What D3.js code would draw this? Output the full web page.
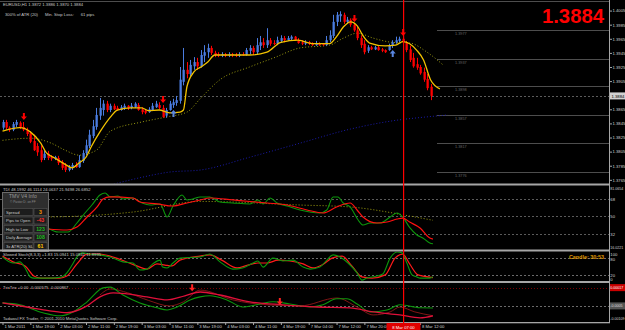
<!DOCTYPE html>
<html><head><meta charset="utf-8">
<script src="https://cdn.jsdelivr.net/npm/d3@7"></script>
<style>body{margin:0;background:#000;overflow:hidden}svg{display:block}text{font-family:"Liberation Sans",Arial,sans-serif}</style>
</head><body><svg id="c" width="625" height="330"></svg>
<script>
// ---------- DATA ----------
const opens=[1.3839,1.3847,1.3839,1.3836,1.3843,1.3846,1.3840,1.3836,1.3831,1.3820,1.3813,1.3807,1.3796,1.3802,1.3797,1.3795,1.3796,1.3790,1.3785,1.3779,1.3782,1.3786,1.3783,1.3792,1.3803,1.3813,1.3827,1.3840,1.3856,1.3864,1.3873,1.3864,1.3870,1.3867,1.3864,1.3867,1.3870,1.3867,1.3868,1.3871,1.3865,1.3863,1.3861,1.3864,1.3868,1.3871,1.3867,1.3856,1.3864,1.3871,1.3874,1.3877,1.3904,1.3921,1.3915,1.3926,1.3932,1.3926,1.3941,1.3946,1.3952,1.3945,1.3943,1.3941,1.3943,1.3941,1.3943,1.3942,1.3941,1.3943,1.3942,1.3948,1.3952,1.3946,1.3955,1.3960,1.3956,1.3963,1.3959,1.3958,1.3962,1.3966,1.3963,1.3965,1.3968,1.3963,1.3960,1.3958,1.3960,1.3958,1.3956,1.3959,1.3958,1.3956,1.3963,1.3969,1.3989,1.3997,1.3999,1.3989,1.3992,1.3985,1.3977,1.3966,1.3958,1.3948,1.3953,1.3950,1.3953,1.3950,1.3949,1.3949,1.3955,1.3960,1.3962,1.3965,1.3960,1.3950,1.3938,1.3929,1.3925,1.3918,1.3908,1.3897];
const highs=[1.3850,1.3850,1.3841,1.3847,1.3850,1.3848,1.3847,1.3839,1.3834,1.3829,1.3817,1.3814,1.3807,1.3806,1.3800,1.3799,1.3799,1.3793,1.3789,1.3786,1.3789,1.3790,1.3800,1.3807,1.3822,1.3836,1.3850,1.3867,1.3881,1.3878,1.3877,1.3873,1.3873,1.3870,1.3871,1.3873,1.3871,1.3874,1.3875,1.3874,1.3868,1.3865,1.3868,1.3874,1.3877,1.3875,1.3871,1.3867,1.3877,1.3880,1.3884,1.3925,1.3952,1.3932,1.3935,1.3939,1.3938,1.3949,1.3956,1.3958,1.3955,1.3948,1.3946,1.3946,1.3945,1.3946,1.3945,1.3945,1.3946,1.3946,1.3952,1.3956,1.3955,1.3966,1.3969,1.3966,1.3980,1.3966,1.3963,1.3968,1.3970,1.3969,1.3969,1.3970,1.3969,1.3966,1.3963,1.3963,1.3962,1.3960,1.3962,1.3960,1.3959,1.3969,1.3977,1.3999,1.4003,1.4004,1.4002,1.3996,1.3994,1.3986,1.3982,1.3970,1.3963,1.3956,1.3955,1.3955,1.3955,1.3952,1.3950,1.3958,1.3963,1.3968,1.3968,1.3966,1.3962,1.3955,1.3945,1.3938,1.3928,1.3924,1.3915,1.3901];
const lows=[1.3836,1.3836,1.3833,1.3834,1.3840,1.3837,1.3834,1.3827,1.3817,1.3806,1.3799,1.3790,1.3793,1.3793,1.3792,1.3793,1.3786,1.3779,1.3776,1.3777,1.3779,1.3782,1.3782,1.3789,1.3800,1.3810,1.3824,1.3836,1.3850,1.3856,1.3861,1.3861,1.3864,1.3863,1.3863,1.3864,1.3864,1.3865,1.3867,1.3863,1.3858,1.3858,1.3860,1.3863,1.3867,1.3865,1.3853,1.3853,1.3863,1.3867,1.3870,1.3873,1.3899,1.3909,1.3911,1.3921,1.3921,1.3924,1.3932,1.3938,1.3942,1.3939,1.3939,1.3939,1.3939,1.3939,1.3939,1.3939,1.3939,1.3941,1.3941,1.3943,1.3942,1.3943,1.3949,1.3952,1.3952,1.3955,1.3956,1.3956,1.3959,1.3960,1.3962,1.3962,1.3962,1.3958,1.3956,1.3956,1.3956,1.3955,1.3955,1.3955,1.3955,1.3955,1.3960,1.3966,1.3983,1.3989,1.3986,1.3986,1.3982,1.3975,1.3963,1.3952,1.3943,1.3945,1.3949,1.3949,1.3948,1.3946,1.3945,1.3948,1.3952,1.3958,1.3960,1.3959,1.3946,1.3932,1.3924,1.3921,1.3914,1.3904,1.3892,1.3878];
const closes=[1.3847,1.3839,1.3836,1.3844,1.3847,1.3840,1.3836,1.3830,1.3819,1.3807,1.3804,1.3793,1.3802,1.3796,1.3795,1.3797,1.3789,1.3782,1.3779,1.3783,1.3786,1.3783,1.3793,1.3803,1.3814,1.3829,1.3841,1.3857,1.3867,1.3873,1.3864,1.3870,1.3865,1.3864,1.3868,1.3870,1.3867,1.3870,1.3873,1.3864,1.3861,1.3860,1.3865,1.3870,1.3873,1.3867,1.3854,1.3864,1.3873,1.3875,1.3878,1.3907,1.3921,1.3915,1.3928,1.3932,1.3926,1.3942,1.3946,1.3952,1.3945,1.3942,1.3941,1.3943,1.3941,1.3943,1.3942,1.3941,1.3943,1.3942,1.3949,1.3952,1.3946,1.3956,1.3960,1.3956,1.3963,1.3958,1.3958,1.3963,1.3966,1.3963,1.3966,1.3968,1.3963,1.3959,1.3958,1.3960,1.3958,1.3956,1.3959,1.3956,1.3956,1.3963,1.3970,1.3989,1.3999,1.4000,1.3989,1.3992,1.3985,1.3977,1.3966,1.3956,1.3946,1.3953,1.3950,1.3953,1.3949,1.3948,1.3946,1.3955,1.3960,1.3963,1.3965,1.3960,1.3949,1.3935,1.3926,1.3924,1.3916,1.3907,1.3895,1.3884];

// moving averages: [bar, price]
const fastMA=[[0,1.3834],[5,1.3839],[8,1.3833],[11,1.3817],[12.5,1.3804],[15,1.3796],[18,1.3787],[20,1.3782],[22,1.3789],[24,1.3797],[25.5,1.3812],[28,1.3833],[31,1.3854],[33,1.3864],[37,1.3867],[40,1.3867],[42,1.3863],[45,1.3864],[48,1.3860],[51,1.3861],[52,1.3864],[53,1.3897],[55,1.3918],[57,1.3925],[59,1.3932],[61,1.3942],[66,1.3942],[71,1.3942],[76,1.3946],[80,1.3960],[85,1.3963],[89,1.3958],[94,1.3958],[96,1.3968],[98,1.3982],[100,1.3989],[102,1.3983],[103.5,1.3970],[105.5,1.3959],[110,1.3955],[113,1.3956],[115,1.3961],[117,1.3958],[119,1.3949],[121,1.3935],[123,1.3907],[125.7,1.3894]];
const slowMA=[[0,1.3821],[8,1.3824],[14,1.3817],[18,1.3807],[22,1.3800],[27,1.3807],[31,1.3834],[40,1.3847],[47,1.3854],[53,1.3861],[57,1.3881],[62.5,1.3907],[71,1.3925],[78,1.3938],[85.5,1.3952],[94,1.3956],[98,1.3966],[102,1.3973],[106.5,1.3966],[112,1.3960],[117,1.3959],[122,1.3946],[126.6,1.3928]];
const longMA=[[32,1.3759],[39.5,1.3768],[48,1.3776],[57,1.3779],[71,1.3797],[85.5,1.3817],[100,1.3837],[114,1.3850],[119.4,1.3853],[128,1.3857]];
const pivotLevels=[1.3977,1.3937,1.3898,1.3857,1.3817,1.3776];
const priceTicks=[1.4005,1.3985,1.3965,1.3945,1.3925,1.3905,1.3865,1.3845,1.3825,1.3805,1.3785,1.3765];
const sellArrows=[6,46,101,115];
const buyArrows=[49,112];
const lastPrice=1.3884;

// TDI: [bar, value]
const tdiGreen=[[13,38.2],[16,34.0],[18.8,34.0],[21.4,43.3],[23.7,53.6],[25.7,61.8],[28,72.1],[29.5,74.2],[30.9,70.1],[33.2,71.1],[34.6,68.0],[37.5,69.0],[40.1,63.9],[42.4,61.8],[45.3,62.9],[47.3,49.5],[49,60.8],[51.6,72.1],[53,67.0],[54.7,68.0],[56.8,70.1],[59.6,70.1],[62.5,64.9],[66.2,63.9],[71.1,62.9],[73.4,67.0],[74.9,62.9],[76.9,69.0],[78.9,63.9],[81.8,60.8],[85.5,56.7],[91.2,53.6],[93.2,56.7],[95,70.1],[96.4,70.1],[97.9,63.9],[99.9,59.8],[102.2,46.4],[103.6,41.2],[105.6,43.3],[108.5,43.3],[111.4,49.5],[113.4,53.6],[115,49.5],[117.1,38.2],[119.1,31.0],[120.8,27.9],[122.8,22.7],[123.7,21.9]];
const tdiRed=[[13,37.1],[18.5,36.1],[21.4,39.2],[24.3,49.5],[27.2,59.8],[28.9,68.0],[30.9,70.1],[37.5,69.0],[39.5,64.9],[44.4,62.9],[49,60.8],[53,63.9],[56.8,67.0],[59.6,69.0],[66.2,67.0],[76,63.9],[81.8,61.8],[87.5,56.7],[92.1,53.6],[96,59.8],[99.9,63.9],[101.9,56.7],[103.6,49.5],[107.6,43.3],[110.5,44.3],[113.4,47.4],[115,48.4],[117,44.3],[120,38.2],[122.8,27.9],[123.7,26.7]];
const tdiBase=[[13,49.5],[23,50.5],[37.5,54.6],[57,65.5],[85.5,61.8],[99.9,59.8],[117,50.5],[123.7,46.1]];
const tdiLevels=[68,50,32];

// Stochastic: [bar, value]
const stochK=[[0,83],[3,62],[5,66],[6.5,45],[8,14],[9,10],[13.6,10],[17,14],[18.5,28],[20,55],[21.4,83],[23,97],[25,93],[28,90],[30.9,83],[34.6,66],[37.5,62],[39.5,38],[41.5,41],[43.2,59],[45.3,72],[46,48],[47.3,45],[49,62],[51,79],[56.8,83],[59.6,93],[62.5,66],[66.2,41],[69,45],[72,62],[73.4,69],[74.9,48],[77.7,79],[80.6,69],[83.5,72],[86.4,48],[88.4,41],[91.2,48],[93.2,72],[95,90],[97,83],[99.3,62],[101.9,28],[103.3,3],[104.7,10],[107.6,17],[109.3,24],[111.4,79],[113.4,100],[114.8,97],[116.2,62],[117.7,21],[119.1,14],[120,10],[122.8,10],[123.7,15.1]];
const stochD=[[0,86],[3,66],[6.5,52],[9,17],[11,10],[16.5,10],[18.5,17],[21.4,59],[24.3,93],[28,93],[30.9,86],[35,69],[38.6,52],[41.5,41],[44.4,59],[46.7,55],[48.7,52],[51,72],[56.8,86],[59.6,90],[63,72],[67.4,45],[70.5,55],[73.4,62],[76,62],[79.2,72],[82.6,69],[86.4,59],[89.2,45],[91.8,55],[94.7,79],[97.6,86],[100.4,52],[103.3,14],[106.2,10],[110,21],[112.8,79],[115,93],[117,59],[119.4,21],[123.7,11.9]];
const stochLevels=[80,20];

// TrixTrix: [bar, value]
const trixGreen=[[0,-0.00039],[5,-0.00046],[11.6,-0.00075],[16.5,-0.00086],[20.3,-0.00072],[24.3,-0.00035],[28.9,0.00016],[30.9,0.00019],[34.6,-0.00010],[39.5,-0.00039],[44.4,-0.00057],[47.3,-0.00065],[50.2,-0.00054],[53.9,-0.00028],[56.8,-0.00017],[59.6,-0.00013],[64.5,-0.00028],[69.1,-0.00054],[74,-0.00043],[77.7,-0.00035],[82.6,-0.00043],[88.4,-0.00054],[92.1,-0.00046],[96,-0.00024],[99,-0.00024],[101.9,-0.00043],[105.6,-0.00072],[110.5,-0.00065],[114.2,-0.00046],[120,-0.00057],[123.7,-0.000575]];
const trixRed=[[0,-0.00039],[7,-0.00054],[13.6,-0.00068],[18.5,-0.00075],[24.3,-0.00050],[28,-0.00017],[31.8,-0.00002],[35.8,-0.00006],[41.5,-0.00017],[47.3,-0.00028],[52.4,-0.00013],[56.8,0.00001],[62.5,-0.00010],[71.1,-0.00035],[80.6,-0.00046],[90.4,-0.00054],[99.9,-0.00057],[106.5,-0.00072],[114.2,-0.00083],[120,-0.00094],[123.7,-0.000867]];
const trixSignal=[[28,-0.00010],[31,0.00012],[36,-0.00002],[42,-0.00030],[48,-0.00050],[52,-0.00035],[56.8,0.00008],[66.2,-0.00028],[76,-0.00046],[85.5,-0.00050],[96.1,-0.00021],[101.9,-0.00054],[106.5,-0.00083],[111.4,-0.00072],[114.2,-0.00054],[118.5,-0.00072],[123.7,-0.00086]];
const trixMarks=[[54.5,0.00018],[79.7,-0.00032]];
const trixLevels=[0.00017,-0.0005];

const timeBars=[0,8,16,24,32,40,48,56,64,72,80,88,96,104,120];
const timeTexts=["1 Mar 2011","1 Mar 19:00","2 Mar 03:00","2 Mar 11:00","2 Mar 19:00","3 Mar 03:00","3 Mar 11:00","3 Mar 19:00","4 Mar 03:00","4 Mar 11:00","4 Mar 19:00","7 Mar 04:00","7 Mar 12:00","7 Mar 20:00","8 Mar 12:00"];
const vlineBar=115, vlineText="8 Mar 07:00";

const infoLabels=["Spread","Pips to Open","High to Low","Daily Average","3x ATR(20) SL"];
const infoValues=["3","-43","123","108","61"];
const infoColors=["#ff9900","#ff3030","#22bb22","#22bb22","#ffcc00"];

// ---------- DRAW ----------
const svg=d3.select("#c");
svg.append("rect").attr("width",625).attr("height",330).attr("fill","#000");
const R=609;
const x=d3.scaleLinear().domain([0,123]).range([2.5,430.5]);
const yM=d3.scaleLinear().domain([1.4020,1.3761]).range([0,182.65]);
const yT=d3.scaleLinear().domain([81.0654,16.0221]).range([186.3,249.5]);
const yS=d3.scaleLinear().domain([100,0]).range([252,281]);
const yX=d3.scaleLinear().domain([0.00034,-0.00109]).range([283,322]);

const defs=svg.append("defs");
function clip(id,y0,y1){defs.append("clipPath").attr("id",id).append("rect").attr("x",0).attr("y",y0).attr("width",R).attr("height",y1-y0);}
clip("cm",0,183.5);clip("ct",186,249.5);clip("cs",251.5,281);clip("cx",283,322);

const gM=svg.append("g").attr("clip-path","url(#cm)");
gM.selectAll(".pv").data(pivotLevels).join("line").attr("x1",437).attr("x2",R).attr("y1",d=>Math.round(yM(d))+0.5).attr("y2",d=>Math.round(yM(d))+0.5).attr("stroke","#4d4d4d");
gM.selectAll(".pvt").data(pivotLevels).join("text").attr("x",455).attr("y",d=>yM(d)+5).attr("font-size",3.8).attr("fill","#666").text(d=>d.toFixed(4));
gM.append("line").attr("x1",0).attr("x2",R).attr("y1",1.5).attr("y2",1.5).attr("stroke","#4d4d4d");
gM.append("line").attr("x1",0).attr("x2",R).attr("y1",Math.round(yM(lastPrice))+0.5).attr("y2",Math.round(yM(lastPrice))+0.5).attr("stroke","#5c5c5c").attr("stroke-dasharray","2,2");

const line=(xs,ys)=>d3.line().x(d=>xs(d[0])).y(d=>ys(d[1])).curve(d3.curveMonotoneX);
gM.append("path").attr("d",line(x,yM)(longMA)).attr("fill","none").attr("stroke","#1a1aa8").attr("stroke-width",1).attr("stroke-dasharray","1,2");
gM.append("path").attr("d",line(x,yM)(slowMA)).attr("fill","none").attr("stroke","#9a9a10").attr("stroke-width",1).attr("stroke-dasharray","1,2");

const bars=d3.range(opens.length);
const col=i=>closes[i]>=opens[i]?"#4a7ce0":"#ff0000";
gM.selectAll(".wk").data(bars).join("line").attr("x1",i=>Math.round(x(i))+0.5).attr("x2",i=>Math.round(x(i))+0.5).attr("y1",i=>yM(highs[i])).attr("y2",i=>yM(lows[i])).attr("stroke",col).attr("stroke-width",1);
gM.selectAll(".bd").data(bars).join("rect").attr("x",i=>Math.round(x(i))-0.5).attr("width",2.3).attr("y",i=>Math.min(yM(opens[i]),yM(closes[i]))).attr("height",i=>Math.max(1,Math.abs(yM(opens[i])-yM(closes[i])))).attr("fill",col);

gM.append("path").attr("d",line(x,yM)(fastMA)).attr("fill","none").attr("stroke","#f2c200").attr("stroke-width",1.3);

const down=(cx,top)=>`M${cx-1},${top}h2v3.5h2l-3,3.5l-3,-3.5h2z`;
const up=(cx,top)=>`M${cx},${top}l3,3.5h-2v3.5h-2v-3.5h-2z`;
gM.selectAll(".sa").data(sellArrows).join("path").attr("d",i=>down(x(i)+0.5,yM(highs[i])-9)).attr("fill","#ff0000");
gM.selectAll(".ba").data(buyArrows).join("path").attr("d",i=>up(x(i)+0.5,yM(lows[i])+2)).attr("fill","#5a86e0");

svg.append("text").attr("x",3).attr("y",6).attr("font-size",4.2).attr("fill","#c8c8c8").text("EURUSD,H1  1.3872 1.3886 1.3870 1.3884");
svg.append("text").attr("x",5).attr("y",15.5).attr("font-size",4.2).attr("fill","#c8c8c8").attr("xml:space","preserve").text("300% of ATR (20)      Min. Stop Loss:      61 pips");
svg.append("text").attr("x",604).attr("y",23).attr("text-anchor","end").attr("font-size",20.3).attr("font-weight","bold").attr("fill","#ff0000").text("1.3884");

// TDI panel
const gT=svg.append("g").attr("clip-path","url(#ct)");
gT.selectAll(".tl").data(tdiLevels).join("line").attr("x1",0).attr("x2",R).attr("y1",d=>Math.round(yT(d))+0.5).attr("y2",d=>Math.round(yT(d))+0.5).attr("stroke","#5a5a5a").attr("stroke-dasharray","2,2");
gT.append("path").attr("d",line(x,yT)(tdiBase)).attr("fill","none").attr("stroke","#a0a010").attr("stroke-dasharray","1,2");
gT.append("path").attr("d",line(x,yT)(tdiGreen)).attr("fill","none").attr("stroke","#0c960c").attr("stroke-width",1.1);
gT.append("path").attr("d",line(x,yT)(tdiRed)).attr("fill","none").attr("stroke","#ff1010").attr("stroke-width",1.2);
svg.append("text").attr("x",3).attr("y",191).attr("font-size",4.2).attr("fill","#c8c8c8").text("TDI 48.1992 46.1114 24.0637 21.9498 26.6852");

const ib=svg.append("g");
ib.append("rect").attr("x",2.5).attr("y",192.5).attr("width",46).attr("height",59).attr("fill","#2e2e2e").attr("stroke","#6a6a6a");
ib.append("text").attr("x",9).attr("y",198).attr("font-size",5).attr("fill","#9a9a9a").text("TMV  V4 Info");
ib.append("text").attr("x",10).attr("y",203).attr("font-size",3.2).attr("fill","#8a8a8a").text("© Pastor D. on FF");
infoLabels.forEach((t,k)=>{
  const yy=208.5+k*8.5;
  ib.append("rect").attr("x",4).attr("y",yy).attr("width",29).attr("height",7).attr("fill","#1c1c1c").attr("stroke","#555").attr("stroke-width",0.6);
  ib.append("rect").attr("x",34).attr("y",yy).attr("width",13).attr("height",7).attr("fill","#1c1c1c").attr("stroke","#555").attr("stroke-width",0.6);
  ib.append("text").attr("x",6).attr("y",yy+5).attr("font-size",4.2).attr("fill","#c8c8c8").text(t);
  ib.append("text").attr("x",40.5).attr("y",yy+5.3).attr("text-anchor","middle").attr("font-size",5.2).attr("font-weight","bold").attr("fill",infoColors[k]).text(infoValues[k]);
});

// Stoch panel
const gS=svg.append("g").attr("clip-path","url(#cs)");
gS.selectAll(".sl").data(stochLevels).join("line").attr("x1",0).attr("x2",R).attr("y1",d=>Math.round(yS(d))+0.5).attr("y2",d=>Math.round(yS(d))+0.5).attr("stroke","#6a6a6a").attr("stroke-dasharray","2,2");
gS.append("path").attr("d",line(x,yS)(stochD)).attr("fill","none").attr("stroke","#ff1a1a").attr("stroke-width",1.2);
gS.append("path").attr("d",line(x,yS)(stochK)).attr("fill","none").attr("stroke","#0c960c").attr("stroke-width",1.1);
svg.append("text").attr("x",3).attr("y",256).attr("font-size",4.2).attr("fill","#c8c8c8").text("Slowed Stoch(8,3,3) +1.83  15.0941  15.0941  11.8995");
svg.append("text").attr("x",604).attr("y",258.5).attr("text-anchor","end").attr("font-size",5.4).attr("font-weight","bold").attr("fill","#e09a00").text("Candle:  30:53");

// Trix panel
const gX=svg.append("g").attr("clip-path","url(#cx)");
gX.append("line").attr("x1",0).attr("x2",R).attr("y1",Math.round(yX(trixLevels[0]))+0.5).attr("y2",Math.round(yX(trixLevels[0]))+0.5).attr("stroke","#7a0000").attr("stroke-dasharray","1,2");
gX.append("line").attr("x1",0).attr("x2",R).attr("y1",Math.round(yX(trixLevels[1]))+0.5).attr("y2",Math.round(yX(trixLevels[1]))+0.5).attr("stroke","#6a6a6a").attr("stroke-dasharray","2,2");
gX.append("path").attr("d",line(x,yX)(trixSignal)).attr("fill","none").attr("stroke","#901818").attr("stroke-width",0.9);
gX.append("path").attr("d",line(x,yX)(trixGreen)).attr("fill","none").attr("stroke","#0c960c").attr("stroke-width",1.1);
gX.append("path").attr("d",line(x,yX)(trixRed)).attr("fill","none").attr("stroke","#e0103a").attr("stroke-width",1.3);
gX.selectAll(".tm").data(trixMarks).join("path").attr("d",d=>down(x(d[0]),yX(d[1])-3)).attr("fill","#ff2020");
svg.append("text").attr("x",3).attr("y",288.5).attr("font-size",4.2).attr("fill","#c8c8c8").text("TrixTrix +0.00 -0.000575 -0.000867");
svg.append("text").attr("x",3).attr("y",319.5).attr("font-size",4.2).attr("fill","#c8c8c8").text("Tadawul FX Trader, © 2001-2010 MetaQuotes Software Corp.");

// separators
[[183.5,2],[249.5,2],[281,2],[322,1.3]].forEach(s=>svg.append("rect").attr("x",0).attr("y",s[0]).attr("width",R+1).attr("height",s[1]).attr("fill","#a6a6a6"));
svg.append("rect").attr("x",R).attr("y",0).attr("width",1).attr("height",323).attr("fill","#a6a6a6");
svg.append("rect").attr("x",Math.round(x(vlineBar))).attr("y",0).attr("width",1.2).attr("height",323).attr("fill","#ff0000");

// right axis
const ax=svg.append("g").attr("transform",`translate(${R+1},0)`).call(d3.axisRight(yM).tickValues(priceTicks).tickSize(2).tickFormat(d3.format(".4f")));
ax.select(".domain").remove();
ax.selectAll("line").attr("stroke","#a6a6a6");
ax.selectAll("text").attr("font-size",4.2).attr("fill","#d0d0d0").attr("x",2.5).attr("font-family","Liberation Sans, Arial");
svg.append("rect").attr("x",R+1).attr("y",yM(lastPrice)-3.5).attr("width",15).attr("height",7).attr("fill","#d0d0d0");
svg.append("text").attr("x",R+2.5).attr("y",yM(lastPrice)+1.6).attr("font-size",4.2).attr("fill","#000").text(lastPrice.toFixed(4));

const rl=(t,yy,c)=>svg.append("text").attr("x",R+1.3).attr("y",yy).attr("font-size",t.length>6?3.6:4.2).attr("fill",c||"#d0d0d0").text(t);
rl("81.0654",189.5);rl("68",yT(68)+1.6);rl("50",yT(50)+1.6);rl("32",yT(32)+1.6);rl("16.0221",248.5);
rl("100",256);rl("80",yS(80)+3);rl("20",yS(20)+1.6);rl("0",280.5);
svg.append("rect").attr("x",R+1).attr("y",yX(trixLevels[0])-3.5).attr("width",15).attr("height",7).attr("fill","#cc0000");
rl("0.00017",yX(trixLevels[0])+1.4,"#fff");
svg.append("rect").attr("x",R+1).attr("y",yX(trixLevels[1])-3.5).attr("width",15).attr("height",7).attr("fill","#555");
rl("-0.0005",yX(trixLevels[1])+1.4,"#ddd");
rl("-0.00109",319.5);

// time axis
const tx=svg.append("g").attr("transform","translate(0,323)").call(d3.axisBottom(x).tickValues(timeBars).tickSize(2).tickFormat((d,k)=>timeTexts[k]));
tx.select(".domain").remove();
tx.selectAll("line").attr("stroke","#a6a6a6");
tx.selectAll("text").attr("font-size",4.2).attr("fill","#d0d0d0").attr("text-anchor","start").attr("x",1.5).attr("y",2.5).attr("font-family","Liberation Sans, Arial");
const vx=Math.round(x(vlineBar))+0.5;
svg.append("rect").attr("x",vx-17).attr("y",323).attr("width",34).attr("height",7).attr("fill","#e00000");
svg.append("text").attr("x",vx).attr("y",328.5).attr("text-anchor","middle").attr("font-size",4.2).attr("fill","#fff").text(vlineText);
</script></body></html>
